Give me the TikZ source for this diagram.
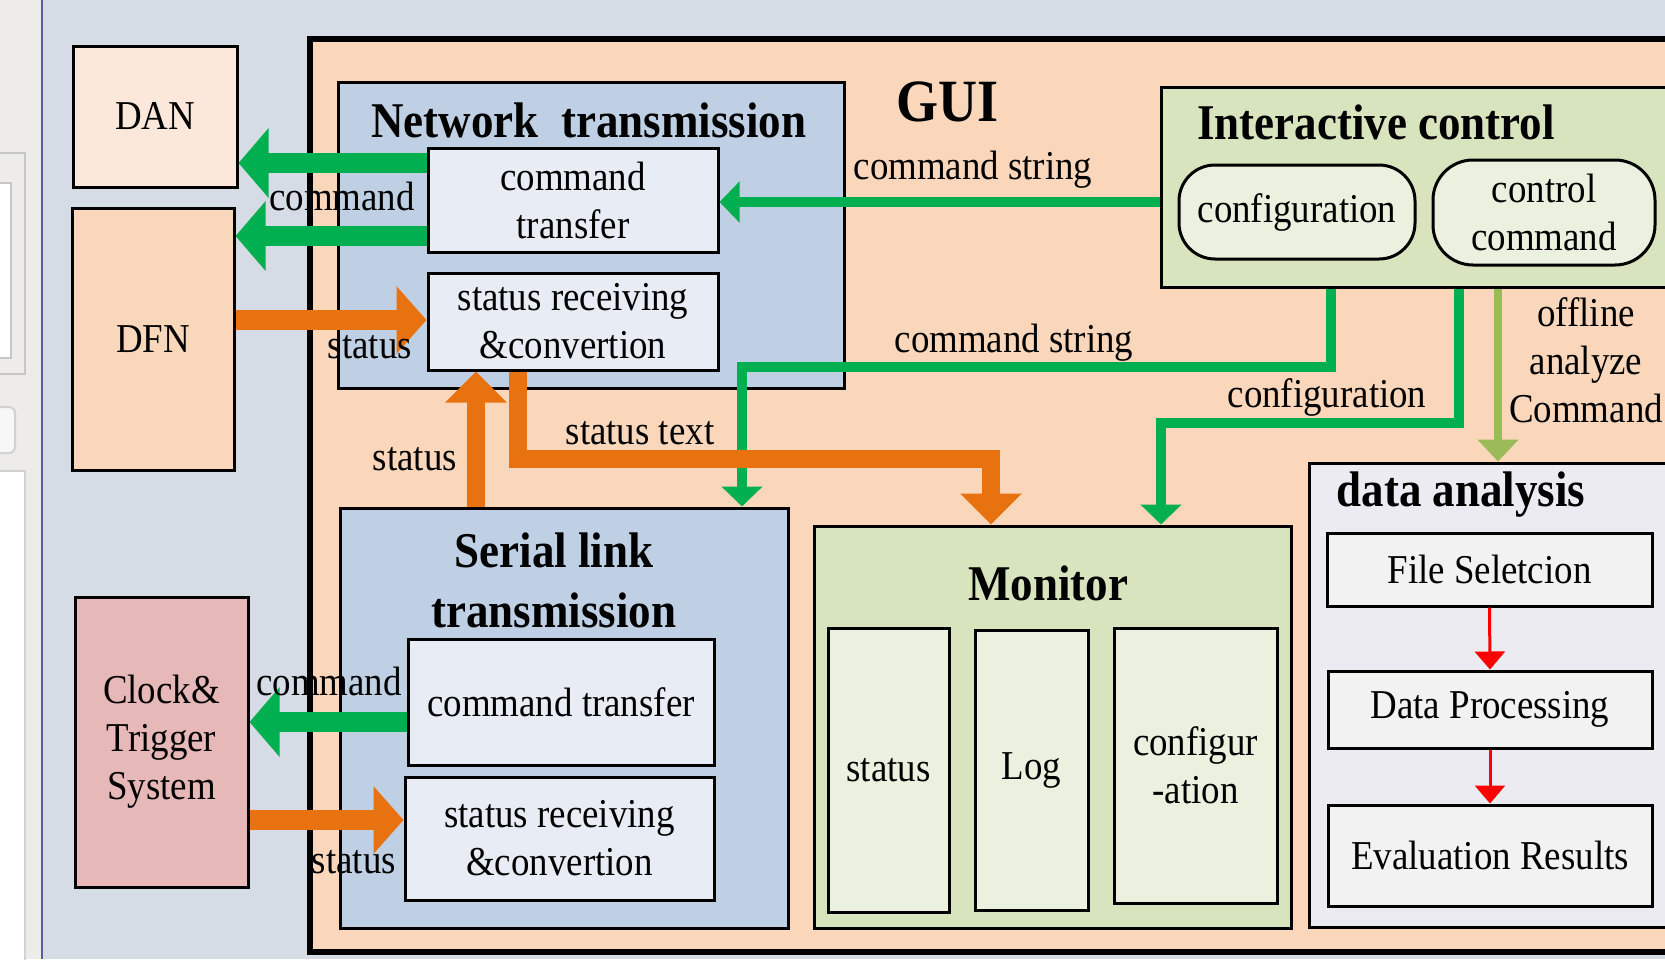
\documentclass[tikz,border=0pt]{standalone}
\usepackage{fontspec}
\setmainfont{Liberation Serif}[FakeStretch=0.9]
\usetikzlibrary{arrows.meta}

\definecolor{bgcol}{HTML}{D6DCE6}
\definecolor{wincol}{HTML}{EEECE9}
\definecolor{guicol}{HTML}{FAD7BA}
\definecolor{netcol}{HTML}{BFD0E4}
\definecolor{subcol}{HTML}{E8EDF5}
\definecolor{dancol}{HTML}{FCE8DB}
\definecolor{dfncol}{HTML}{F9D7BA}
\definecolor{clkcol}{HTML}{E6B8B7}
\definecolor{ctlcol}{HTML}{D8E4BE}
\definecolor{ctlsub}{HTML}{EBF1DF}
\definecolor{anacol}{HTML}{EDEBF2}
\definecolor{anasub}{HTML}{F2F2F2}
\definecolor{cgreen}{HTML}{00B050}
\definecolor{corange}{HTML}{E8720F}
\definecolor{colive}{HTML}{9BBB59}

\begin{document}
\begin{tikzpicture}[x=0.5pt,y=-0.5pt,
  box/.style={draw, line width=1.5pt, inner sep=0pt, align=center, font=\fontsize{20.5}{24}\selectfont},
  boxtitle/.style={font=\fontsize{25}{30}\selectfont\bfseries, align=center, inner sep=0pt},
  lbl/.style={font=\fontsize{20.5}{24}\selectfont, align=center, inner sep=0pt},
  cmdarr/.style={draw=cgreen, line width=10pt, -{Triangle[width=34pt,length=15pt]}},
  statarr/.style={draw=corange, line width=10pt, -{Triangle[width=33pt,length=15pt]}},
  strarr/.style={draw=cgreen, line width=5pt, -{Triangle[width=20pt,length=10pt]}},
  txtarr/.style={draw=corange, line width=9pt, -{Triangle[width=30pt,length=15.5pt]}},
  offarr/.style={draw=colive, line width=4pt, -{Triangle[width=20pt,length=11pt]}},
  flowarr/.style={draw=red, line width=1.5pt, -{Triangle[width=15pt,length=9pt]}}]
  \useasboundingbox (0,0) rectangle (1665,959);
  \clip (0,0) rectangle (1665,959);
  \fill[bgcol] (0,0) rectangle (1665,959);
  % window strip on the left
  \fill[wincol] (0,0) rectangle (41,959);
  \draw[gray!70!blue, line width=1pt] (41.5,0) -- (41.5,959);
  \draw[gray!45, line width=1pt] (-2,153) rectangle (25,374);
  \draw[gray!45, fill=white, line width=1pt] (-2,183) rectangle (11,358);
  \draw[gray!35, fill=gray!6, line width=1pt, rounded corners=3pt] (-5,407) rectangle (15,453);
  \draw[gray!35, fill=white, line width=1pt] (-2,471) rectangle (25,965);

  % outer boxes
  \node[draw, line width=3pt, fill=guicol, minimum width=695pt, minimum height=456.5pt] (gui) at (1005,495.5) {};
  \node[box, fill=dancol, minimum width=82pt, minimum height=70.5pt] (dan) at (155,116.5) {DAN};
  \node[box, fill=dfncol, minimum width=81pt, minimum height=131pt] (dfn) at (153,339) {DFN};
  \node[box, fill=clkcol, minimum width=86.5pt, minimum height=145pt] (clock) at (161.5,742) {Clock\&\\Trigger\\System};

  % network transmission
  \node[box, fill=netcol, minimum width=253pt, minimum height=153pt] (net) at (591,235) {};
  \node[box, fill=subcol, minimum width=145pt, minimum height=52pt] (netcmd) at (573,200) {command\\transfer};
  \node[box, fill=subcol, minimum width=145pt, minimum height=48.5pt] (netsta) at (573,321.5) {status receiving\\\&convertion};

  % serial link transmission
  \node[box, fill=netcol, minimum width=224pt, minimum height=210pt] (serial) at (564,718) {};
  \node[box, fill=subcol, minimum width=153pt, minimum height=63pt] (sercmd) at (561,702) {command transfer};
  \node[box, fill=subcol, minimum width=154.5pt, minimum height=61.5pt] (sersta) at (559.5,838.5) {status receiving\\\&convertion};

  % interactive control
  \node[box, fill=ctlcol, minimum width=269.5pt, minimum height=100pt] (inter) at (1430.5,187) {};
  \node[box, fill=ctlsub, rounded corners=18pt, minimum width=118pt, minimum height=47pt] (iconf) at (1297,212) {configuration};
  \node[box, fill=ctlsub, rounded corners=20pt, minimum width=111pt, minimum height=52.5pt] (ictrl) at (1544,212.5) {control\\command};

  % monitor
  \node[box, fill=ctlcol, minimum width=238.5pt, minimum height=201pt] (monitor) at (1052.5,727) {};
  \node[box, fill=ctlsub, minimum width=60.5pt, minimum height=142pt] (mstat) at (888.5,770) {status};
  \node[box, fill=ctlsub, minimum width=56.5pt, minimum height=140pt] (mlog) at (1031.5,770) {Log};
  \node[box, fill=ctlsub, minimum width=81.5pt, minimum height=137.5pt] (mconf) at (1195.5,765.5) {configur\\-ation};

  % data analysis
  \node[box, fill=anacol, minimum width=195.5pt, minimum height=232pt] (data) at (1504.5,695) {};
  \node[box, fill=anasub, minimum width=162.5pt, minimum height=36.5pt] (dfile) at (1489.5,569.5) {File Seletcion};
  \node[box, fill=anasub, minimum width=162pt, minimum height=38.5pt] (dproc) at (1490,709.5) {Data Processing};
  \node[box, fill=anasub, minimum width=162pt, minimum height=50.5pt] (deval) at (1490,855.5) {Evaluation Results};

  % titles
  \node[boxtitle, font=\fontsize{30}{36}\selectfont\bfseries] (guittl) at (947,102) {GUI};
  \node[boxtitle] (netttl) at (589,120) {Network~~transmission};
  \node[boxtitle] (serttl) at (554,580) {Serial link\\transmission};
  \node[boxtitle] (interttl) at (1376,122) {Interactive control};
  \node[boxtitle] (monttl) at (1048,583) {Monitor};
  \node[boxtitle] (datattl) at (1461,495) {data analysis};

  % connectors
  \draw[cmdarr] (netcmd.west |- 0,163) -- (dan.east |- 0,163);
  \draw[cmdarr] (netcmd.west |- 0,236) -- (dfn.east |- 0,236);
  \draw[statarr] (dfn.east |- 0,320) -- (netsta.west |- 0,320);
  \draw[strarr] (inter.west |- 0,202) -- (netcmd.east |- 0,202);
  \draw[strarr] (inter.south -| 1331,0) |- (742,367) -- (serial.north -| 742,0);
  \draw[strarr] (inter.south -| 1459,0) |- (1161,423) -- (monitor.north -| 1161,0);
  \draw[offarr] (inter.south -| 1498,0) -- (data.north -| 1498,0);
  \draw[txtarr] (netsta.south -| 518,0) |- (991,459) -- (monitor.north -| 991,0);
  \draw[txtarr] (serial.north -| 476,0) -- (netsta.south -| 476,0);
  \draw[cmdarr] (sercmd.west |- 0,722) -- (clock.east |- 0,722);
  \draw[statarr] (clock.east |- 0,820) -- (sersta.west |- 0,820);
  \draw[flowarr] (dfile.south) -- (dproc.north);
  \draw[flowarr] (dproc.south) -- (deval.north);

  % labels
  \node[lbl] (lcmd1) at (342,196) {command};
  \node[lbl] (lsta1) at (370,347) {status};
  \node[lbl] (lstr1) at (973,170) {command string};
  \node[lbl] (lstr2) at (1014,343) {command string};
  \node[lbl] (lconf) at (1327,397) {configuration};
  \node[lbl] (loff) at (1586,360) {offline\\analyze\\Command};
  \node[lbl] (ltext) at (640,433) {status text};
  \node[lbl] (lsta2) at (415,459) {status};
  \node[lbl] (lcmd2) at (329,681) {command};
  \node[lbl] (lsta3) at (354,862) {status};
\end{tikzpicture}
\end{document}
